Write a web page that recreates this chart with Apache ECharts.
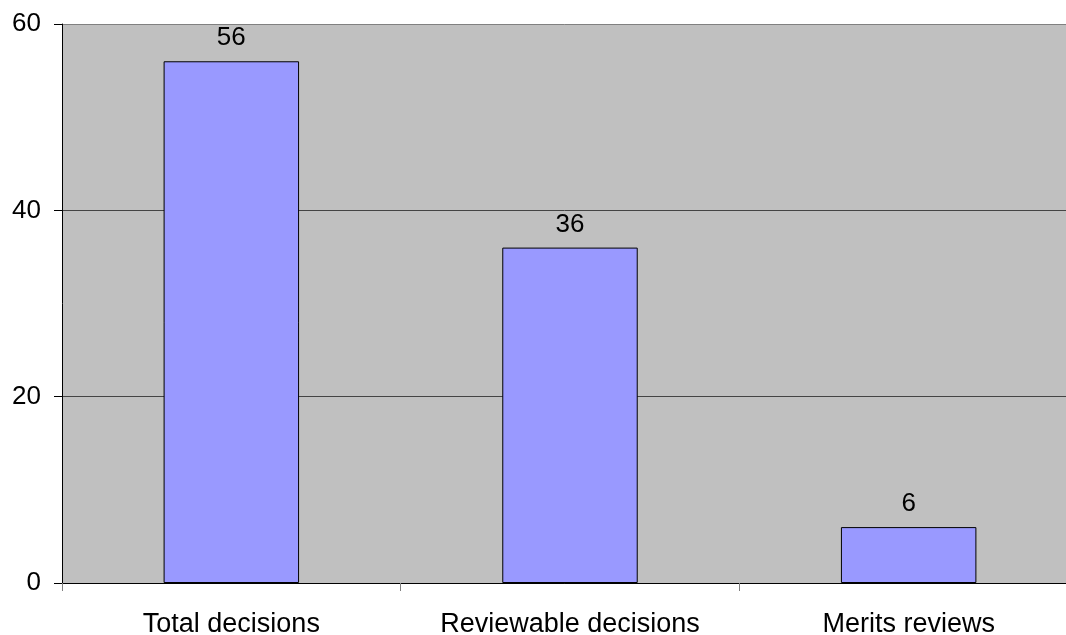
<!DOCTYPE html>
<html>
<head>
<meta charset="utf-8">
<script src="https://cdn.jsdelivr.net/npm/echarts@6/dist/echarts.min.js"></script>
<style>
html,body{margin:0;padding:0;background:#fff;}
#c{width:1066px;height:635px;}
</style>
</head>
<body>
<div id="c"></div>
<script>
const categories = ['Total decisions', 'Reviewable decisions', 'Merits reviews'];
const values = [56, 36, 6];
const yTicks = [0, 20, 40, 60];

const chart = echarts.init(document.getElementById('c'), null, {renderer: 'canvas'});
const font = '"Liberation Sans", Arial, sans-serif';
chart.setOption({
  animation: false,
  backgroundColor: '#ffffff',
  grid: {
    left: 62, top: 24, width: 1016, height: 559,
    outerBoundsMode: 'none', containLabel: false,
    show: true, backgroundColor: '#c0c0c0', borderWidth: 0
  },
  xAxis: {
    type: 'category',
    data: categories,
    boundaryGap: true,
    axisLine: {show: true, lineStyle: {color: '#000', width: 1}},
    axisTick: {show: true, length: 8, alignWithLabel: false, lineStyle: {color: '#808080'}},
    axisLabel: {color: '#000', fontSize: 27, fontFamily: font, margin: 28}
  },
  yAxis: {
    type: 'value',
    min: yTicks[0], max: yTicks[yTicks.length - 1], interval: 20,
    axisLine: {show: true, lineStyle: {color: '#000', width: 1}},
    axisTick: {show: true, length: 8, lineStyle: {color: '#000'}},
    axisLabel: {color: '#000', fontSize: 26, fontFamily: font, margin: 21},
    splitLine: {show: true, lineStyle: {color: ['#000', '#444', '#444', '#808080'], width: 1}}
  },
  series: [{
    type: 'bar',
    data: values,
    barCategoryGap: '60%',
    itemStyle: {color: '#9999ff', borderColor: '#000', borderWidth: 1},
    label: {show: true, position: 'top', distance: 10, color: '#000', fontSize: 26, fontFamily: font}
  }]
});
</script>
</body>
</html>
